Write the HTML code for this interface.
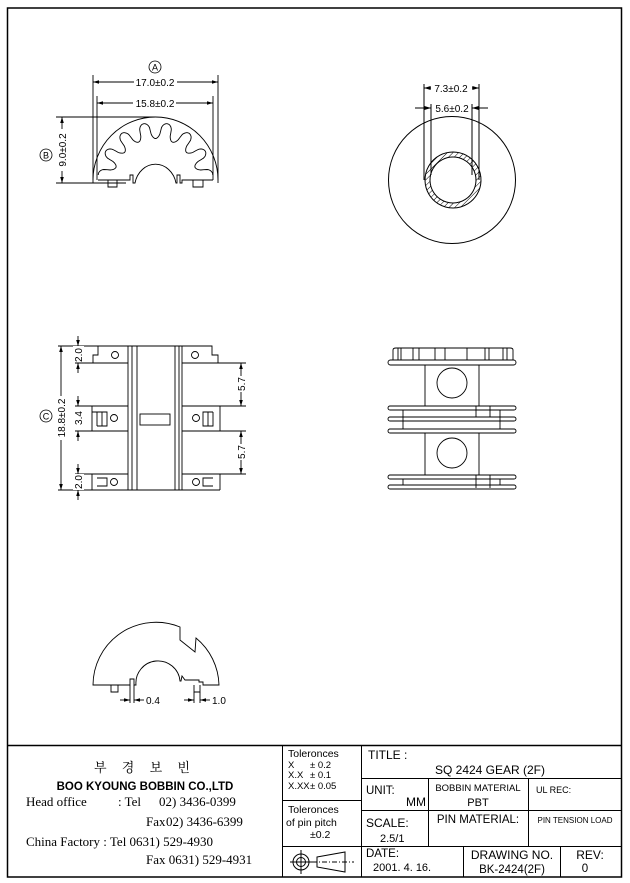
<!DOCTYPE html>
<html><head><meta charset="utf-8"><style>
html,body{margin:0;padding:0;background:#fff}
svg{display:block}
text{font-family:"Liberation Sans","DejaVu Sans",sans-serif;fill:#000}
.k{font-family:"Liberation Serif","Noto Serif CJK SC",serif}
</style></head><body>
<svg width="630" height="883" viewBox="0 0 630 883" xmlns="http://www.w3.org/2000/svg">
<defs>
<pattern id="h" width="4" height="4" patternUnits="userSpaceOnUse" patternTransform="rotate(45)"><line x1="0" y1="0" x2="0" y2="4" stroke="#000" stroke-width="1"/></pattern>
<marker id="a" viewBox="0 0 10 6" refX="10" refY="3" markerWidth="8" markerHeight="4" orient="auto-start-reverse"><path d="M0,0L10,3L0,6z" fill="#000"/></marker>
</defs>
<g fill="none" stroke="#000" stroke-width="1">
<rect x="7.5" y="8" width="614" height="869" stroke-width="1.5"/>
<line x1="7.5" y1="745.5" x2="621.5" y2="745.5" stroke-width="1.5"/>
<line x1="282.5" y1="745" x2="282.5" y2="877"/>
<line x1="361.5" y1="745" x2="361.5" y2="877"/>
<line x1="282" y1="800.5" x2="361" y2="800.5"/>
<line x1="282" y1="846.5" x2="621" y2="846.5"/>
<line x1="361" y1="778.5" x2="621" y2="778.5"/>
<line x1="361" y1="810.5" x2="621" y2="810.5"/>
<line x1="428.5" y1="778" x2="428.5" y2="846"/>
<line x1="528.5" y1="778" x2="528.5" y2="846"/>
<line x1="463.5" y1="846" x2="463.5" y2="877"/>
<line x1="560.5" y1="846" x2="560.5" y2="877"/>
<circle cx="301" cy="862" r="8"/><circle cx="301" cy="862" r="4.5"/>
<line x1="290" y1="862" x2="312" y2="862"/><line x1="301" y1="850" x2="301" y2="874"/>
<path d="M317,857 L345,852 L345,872 L317,867 Z"/>
<line x1="312" y1="862" x2="354" y2="862" stroke-dasharray="5,2,1,2"/>

<g stroke-width="0.9">
<line x1="93" y1="75" x2="93" y2="183"/><line x1="218" y1="75" x2="218" y2="183"/>
<line x1="97" y1="96" x2="97" y2="180"/><line x1="213" y1="96" x2="213" y2="180"/>
<line x1="93" y1="82" x2="218" y2="82" marker-start="url(#a)" marker-end="url(#a)"/>
<line x1="97" y1="103" x2="213" y2="103" marker-start="url(#a)" marker-end="url(#a)"/>
<line x1="56" y1="117" x2="156" y2="117"/>
<line x1="56" y1="183" x2="126" y2="183"/>
<line x1="62" y1="117" x2="62" y2="183" marker-start="url(#a)" marker-end="url(#a)"/>
<path d="M93,180 A62.5,63 0 0 1 218,180"/>
<path id="gear" d=""/>
<path d="M98,180 L130,180 L130,175 L133,175 L133,183 L135,183 A21,24 0 0 1 176,183 L177,183 L177,175 L180,175 L180,183 L182,183 L182,180 L213,180"/>
<path d="M108,180 V187 H117 V180 M193,180 V187 H203 V180"/>
</g>

<circle cx="452" cy="180" r="63.5"/>
<path d="M453,152 a28,28 0 1 0 0.01,0 Z M453,157 a23,23 0 1 1 -0.01,0 Z" fill="url(#h)" fill-rule="evenodd"/>
<line x1="424" y1="84" x2="424" y2="180"/><line x1="479" y1="84" x2="479" y2="180"/>
<line x1="431" y1="104" x2="431" y2="175"/><line x1="472" y1="104" x2="472" y2="175"/>
<line x1="424" y1="88" x2="479" y2="88" marker-start="url(#a)" marker-end="url(#a)"/>
<line x1="415" y1="108" x2="431" y2="108" marker-end="url(#a)"/>
<line x1="488" y1="108" x2="472" y2="108" marker-end="url(#a)"/>

<g stroke-width="0.9">
<path d="M98,346 H128 M98,346 V355 H93 V363 H128"/>
<path d="M182,346 H212 V355 H218 V363 H182"/>
<path d="M92,406 H128 M92,431 H128 M92,406 V431 M97,412 V426 M102,412 V426 M107,412 H97 M92,412 H107 V426 H97"/>
<path d="M182,406 H220 M182,431 H220 M220,406 V431 M213,412 V426 H203 V412 H213 M208,412 V426"/>
<path d="M92,474 H128 M92,490 H128 M92,474 V490 M97,478 H107 V486 H97"/>
<path d="M182,474 H220 M182,490 H220 M220,474 V490 M213,478 H203 V486 H213"/>
<line x1="128" y1="346" x2="128" y2="490"/><line x1="132" y1="346" x2="132" y2="490"/><line x1="137" y1="346" x2="137" y2="490"/>
<line x1="175" y1="346" x2="175" y2="490"/><line x1="179" y1="346" x2="179" y2="490"/><line x1="182" y1="346" x2="182" y2="490"/>
<line x1="128" y1="346" x2="182" y2="346"/><line x1="128" y1="490" x2="182" y2="490"/>
<rect x="140" y="414" width="30" height="11"/>
<circle cx="115" cy="355" r="3.5"/><circle cx="195" cy="355" r="3.5"/>
<circle cx="114" cy="418" r="3.5"/><circle cx="196" cy="418" r="3.5"/>
<circle cx="114" cy="482" r="3.5"/><circle cx="196" cy="482" r="3.5"/>
<line x1="58" y1="346" x2="98" y2="346"/><line x1="58" y1="490" x2="92" y2="490"/>
<line x1="75" y1="363" x2="93" y2="363"/><line x1="75" y1="406" x2="92" y2="406"/>
<line x1="75" y1="431" x2="92" y2="431"/><line x1="75" y1="474" x2="92" y2="474"/>
<line x1="61" y1="346" x2="61" y2="490" marker-start="url(#a)" marker-end="url(#a)"/>
<line x1="78" y1="336" x2="78" y2="346" marker-end="url(#a)"/><line x1="78" y1="373" x2="78" y2="363" marker-end="url(#a)"/>
<line x1="78" y1="396" x2="78" y2="406" marker-end="url(#a)"/><line x1="78" y1="441" x2="78" y2="431" marker-end="url(#a)"/>
<line x1="78" y1="464" x2="78" y2="474" marker-end="url(#a)"/><line x1="78" y1="500" x2="78" y2="490" marker-end="url(#a)"/>
<line x1="218" y1="363" x2="246" y2="363"/><line x1="220" y1="406" x2="246" y2="406"/>
<line x1="220" y1="431" x2="246" y2="431"/><line x1="220" y1="474" x2="246" y2="474"/>
<line x1="241" y1="363" x2="241" y2="406" marker-start="url(#a)" marker-end="url(#a)"/>
<line x1="241" y1="431" x2="241" y2="474" marker-start="url(#a)" marker-end="url(#a)"/>
</g>

<g stroke-width="0.9">
<path d="M393,360 V350 Q393,348 396,348 H510 Q513,348 513,350 V360"/>
<path d="M398,348V360 M401,348V360 M413,348V360 M419,348V360 M435,348V360 M445,348V360 M467,348V360 M485,348V360 M489,348V360 M503,348V360 M507,348V360"/>
<rect x="388" y="360" width="128" height="5" rx="2.5"/>
<path d="M425,365 V406 M479,365 V406"/>
<circle cx="452" cy="383" r="15"/>
<rect x="388" y="406" width="128" height="4" rx="2"/>
<rect x="388" y="417" width="128" height="4" rx="2"/>
<rect x="388" y="429" width="128" height="4" rx="2"/>
<path d="M403,410 V429 M500,410 V429 M476,406 V417 H490 V406"/>
<path d="M425,433 V475 M479,433 V475"/>
<circle cx="452" cy="453" r="15"/>
<rect x="388" y="475" width="128" height="4" rx="2"/>
<rect x="388" y="485" width="128" height="4" rx="2"/>
<path d="M403,479 V485 M500,479 V485 M476,475 V488 M490,475 V488"/>
</g>

<g stroke-width="0.9">
<path d="M93,685 A63,63 0 0 1 180,627 L180,640 L195,652 L196,638 A63,63 0 0 1 219,685 L203,685 L203,682 L199,682 L199,680 L185,680 L182,676 L181,681 L180,681 A22,22 0 0 0 136,685 L134,685 L134,679 L130,679 L130,685 Z"/>
<path d="M111,685 V692 H118 V685 M194,685 V692 H200 V685"/>
<line x1="130" y1="685" x2="130" y2="703"/><line x1="134" y1="685" x2="134" y2="703"/>
<line x1="120" y1="700" x2="130" y2="700" marker-end="url(#a)"/><line x1="144" y1="700" x2="134" y2="700" marker-end="url(#a)"/>
<line x1="194" y1="692" x2="194" y2="703"/><line x1="200" y1="692" x2="200" y2="703"/>
<line x1="184" y1="700" x2="194" y2="700" marker-end="url(#a)"/><line x1="210" y1="700" x2="200" y2="700" marker-end="url(#a)"/>
</g>
</g>

<g fill="none" stroke="#000" stroke-width="0.8"><circle cx="155" cy="67" r="6"/><circle cx="46" cy="155" r="6"/><circle cx="46" cy="416" r="6"/></g>
<g font-size="9" text-anchor="middle">
<text x="155" y="70.5">A</text><text x="46" y="158.5">B</text><text x="46" y="419.5">C</text>
</g>
<g font-size="10" text-anchor="middle">
<rect x="134" y="76" width="43" height="11" fill="#fff"/><text x="155" y="86">17.0±0.2</text>
<rect x="133" y="97" width="43" height="11" fill="#fff"/><text x="155" y="107">15.8±0.2</text>
<rect x="56" y="129" width="11" height="42" fill="#fff"/><text transform="translate(66,150) rotate(-90)">9.0±0.2</text>
<rect x="431" y="83" width="41" height="11" fill="#fff"/><text x="451" y="92">7.3±0.2</text>
<text x="452" y="112">5.6±0.2</text>
<rect x="56" y="396" width="11" height="44" fill="#fff"/><text transform="translate(65,418) rotate(-90)">18.8±0.2</text>
<rect x="73" y="346" width="11" height="16" fill="#fff"/><text transform="translate(82,355) rotate(-90)">2.0</text>
<rect x="73" y="410" width="11" height="16" fill="#fff"/><text transform="translate(82,418) rotate(-90)">3.4</text>
<rect x="73" y="474" width="11" height="16" fill="#fff"/><text transform="translate(82,482) rotate(-90)">2.0</text>
<rect x="236" y="376" width="11" height="16" fill="#fff"/><text transform="translate(245,384) rotate(-90)">5.7</text>
<rect x="236" y="444" width="11" height="16" fill="#fff"/><text transform="translate(245,452) rotate(-90)">5.7</text>
</g>
<g font-size="10"><text x="146" y="704">0.4</text><text x="212" y="704">1.0</text></g>

<g font-size="13" class="k">
<text x="145" y="772" text-anchor="middle" class="k" letter-spacing="6">부 경 보 빈</text>
<text x="145" y="790" text-anchor="middle" style="font-family:'Liberation Sans',sans-serif" font-size="11.5" font-weight="bold">BOO KYOUNG BOBBIN CO.,LTD</text>
<text x="26" y="806" class="k">Head office</text>
<text x="118" y="806" class="k">: Tel</text><text x="159" y="806" class="k">02) 3436-0399</text>
<text x="146" y="826" class="k">Fax</text><text x="166" y="826" class="k">02) 3436-6399</text>
<text x="26" y="846" class="k">China Factory : Tel 0631) 529-4930</text>
<text x="146" y="864" class="k">Fax 0631) 529-4931</text>
</g>
<g font-size="10.5">
<text x="288" y="757">Toleronces</text>
<text x="288" y="768" font-size="9.5">X</text><text x="310" y="768" font-size="9.5">± 0.2</text>
<text x="288" y="778" font-size="9.5">X.X</text><text x="310" y="778" font-size="9.5">± 0.1</text>
<text x="288" y="789" font-size="9.5">X.XX</text><text x="310" y="789" font-size="9.5">± 0.05</text>
<text x="288" y="813">Toleronces</text>
<text x="286" y="826">of pin pitch</text>
<text x="310" y="838">±0.2</text>
<text x="368" y="759" font-size="12">TITLE :</text>
<text x="490" y="774" font-size="12" text-anchor="middle">SQ 2424 GEAR (2F)</text>
<text x="366" y="794" font-size="11.5">UNIT:</text>
<text x="426" y="806" font-size="12" text-anchor="end">MM</text>
<text x="478" y="791" font-size="9.5" text-anchor="middle">BOBBIN MATERIAL</text>
<text x="478" y="806" font-size="11" text-anchor="middle">PBT</text>
<text x="536" y="793" font-size="9">UL REC:</text>
<text x="366" y="827" font-size="12">SCALE:</text>
<text x="380" y="842" font-size="11">2.5/1</text>
<text x="478" y="823" font-size="11.5" text-anchor="middle">PIN MATERIAL:</text>
<text x="575" y="823" font-size="8" text-anchor="middle">PIN TENSION LOAD</text>
<text x="366" y="857" font-size="11.5">DATE:</text>
<text x="373" y="871" font-size="11">2001. 4. 16.</text>
<text x="512" y="859" font-size="12" text-anchor="middle">DRAWING NO.</text>
<text x="512" y="873" font-size="11.5" text-anchor="middle">BK-2424(2F)</text>
<text x="590" y="859" font-size="12" text-anchor="middle">REV:</text>
<text x="585" y="872" font-size="11.5" text-anchor="middle">0</text>
</g>
</svg>
<script>
(function(){var cx=155.5,cy=180,p=[];for(var d=5;d<=175;d+=0.5){var t=d*Math.PI/180;var c=Math.cos(2*Math.PI*(d-90)/24);var s=(c<0?-1:1)*Math.pow(Math.abs(c),0.45);var r=49.5-8*s;p.push((cx+r*Math.cos(t)).toFixed(1)+","+(cy-r*Math.sin(t)).toFixed(1));}
document.getElementById("gear").setAttribute("d","M"+p.join(" L"));})();
</script>
</body></html>
